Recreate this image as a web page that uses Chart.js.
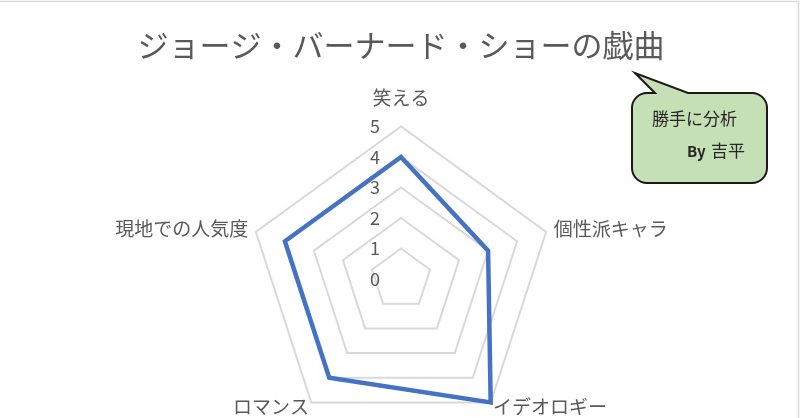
<!DOCTYPE html>
<html>
<head>
<meta charset="utf-8">
<script src="https://cdn.jsdelivr.net/npm/chart.js@4/dist/chart.umd.min.js"></script>
<style>
  html, body { margin: 0; padding: 0; background: #ffffff; overflow: hidden; }
  #wrap { width: 800px; height: 452px; }
</style>
</head>
<body>
<div id="wrap"><canvas id="radar" width="800" height="452"></canvas></div>
<script>
const categories = ['笑える', '個性派キャラ', 'イデオロギー', 'ロマンス', '現地での人気度'];
const scores = [4, 3, 5, 4, 4];
const tickValues = [0, 1, 2, 3, 4, 5];
const titleText = 'ジョージ・バーナード・ショーの戯曲';
const noteLines = ['勝手に分析', 'By 吉平'];

const FONT = '"Noto Sans CJK JP", "Noto Sans", sans-serif';
const GREY = '#595959';

// tick numbers sit a bit left of the vertical axis, so draw them here
const tickLabels = {
  id: 'tickLabels',
  afterDatasetsDraw(chart) {
    const r = chart.scales.r;
    const ctx = chart.ctx;
    ctx.save();
    ctx.font = '18px ' + FONT;
    ctx.fillStyle = GREY;
    ctx.textAlign = 'center';
    ctx.textBaseline = 'middle';
    tickValues.forEach((v) => {
      const d = r.getDistanceFromCenterForValue(v);
      ctx.fillText(String(v), r.xCenter - 26, r.yCenter - d);
    });
    ctx.restore();
  }
};

// speech bubble + frame
const callout = {
  id: 'callout',
  afterDraw(chart) {
    const ctx = chart.ctx;
    ctx.save();
    ctx.strokeStyle = '#d9d9d9';
    ctx.lineWidth = 1.5;
    ctx.beginPath();
    ctx.moveTo(0, 1.5);
    ctx.lineTo(798.5, 1.5);
    ctx.lineTo(798.5, 418);
    ctx.stroke();

    const x = 632, y = 93, w = 135, h = 90, rad = 15;
    ctx.beginPath();
    ctx.moveTo(x + rad, y);
    ctx.lineTo(655, y);
    ctx.lineTo(635, 73);
    ctx.lineTo(688, y);
    ctx.lineTo(x + w - rad, y);
    ctx.arcTo(x + w, y, x + w, y + rad, rad);
    ctx.lineTo(x + w, y + h - rad);
    ctx.arcTo(x + w, y + h, x + w - rad, y + h, rad);
    ctx.lineTo(x + rad, y + h);
    ctx.arcTo(x, y + h, x, y + h - rad, rad);
    ctx.lineTo(x, y + rad);
    ctx.arcTo(x, y, x + rad, y, rad);
    ctx.closePath();
    ctx.fillStyle = '#c5e0b4';
    ctx.fill();
    ctx.strokeStyle = '#1a1a1a';
    ctx.lineWidth = 2;
    ctx.stroke();

    ctx.fillStyle = '#262626';
    ctx.textBaseline = 'middle';
    ctx.textAlign = 'left';
    ctx.font = '17px ' + FONT;
    ctx.fillText(noteLines[0], 652, 119);
    const parts = noteLines[1].split(' ');
    ctx.font = 'bold 15px ' + FONT;
    ctx.fillText(parts[0], 687, 151);
    const bw = ctx.measureText(parts[0] + ' ').width;
    ctx.font = '17px ' + FONT;
    ctx.fillText(parts[1], 687 + bw + 2, 151);
    ctx.restore();
  }
};

new Chart(document.getElementById('radar'), {
  type: 'radar',
  data: {
    labels: categories,
    datasets: [{
      data: scores,
      borderColor: '#4472c4',
      borderWidth: 4.5,
      borderJoinStyle: 'miter',
      backgroundColor: 'rgba(0,0,0,0)',
      fill: false,
      pointRadius: 0,
      pointHoverRadius: 0,
      tension: 0
    }]
  },
  options: {
    responsive: false,
    animation: false,
    layout: { padding: { left: 2 } },
    plugins: {
      legend: { display: false },
      tooltip: { enabled: false },
      title: {
        display: true,
        text: titleText,
        color: GREY,
        font: { family: FONT, size: 31, weight: 'normal', lineHeight: 1.2 },
        padding: { top: 27, bottom: 1.8 }
      }
    },
    scales: {
      r: {
        min: 0,
        max: 5,
        ticks: { stepSize: 1, display: false },
        grid: { color: '#d9d9d9', lineWidth: 2 },
        angleLines: { display: false },
        pointLabels: {
          color: GREY,
          padding: (c) => [17.6, 8, 4, 4, 8][c.index],
          font: (c) => ({
            family: FONT,
            size: 19,
            lineHeight: c.index === 0 ? 1.2 : 0.1
          })
        }
      }
    }
  },
  plugins: [tickLabels, callout]
});
</script>
</body>
</html>
